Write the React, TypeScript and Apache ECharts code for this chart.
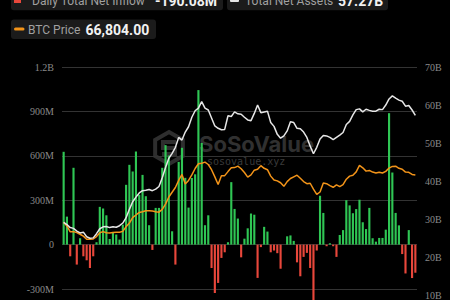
import React, { useEffect, useRef } from "react";
import * as echarts from "echarts";

// Trading days (categories)
const months: [string, number[]][] = [
  ["2024-01", [11, 12, 16, 17, 18, 19, 22, 23, 24, 25, 26, 29, 30, 31]],
  ["2024-02", [1, 2, 5, 6, 7, 8, 9, 12, 13, 14, 15, 16, 20, 21, 22, 23, 26, 27, 28, 29]],
  ["2024-03", [1, 4, 5, 6, 7, 8, 11, 12, 13, 14, 15, 18, 19, 20, 21, 22, 25, 26, 27, 28]],
  ["2024-04", [1, 2, 3, 4, 5, 8, 9, 10, 11, 12, 15, 16, 17, 18, 19, 22, 23, 24, 25, 26, 29, 30]],
  ["2024-05", [1, 2, 3, 6, 7, 8, 9, 10, 13, 14, 15, 16, 17, 20, 21, 22, 23, 24, 28, 29, 30, 31]],
  ["2024-06", [3, 4, 5, 6, 7, 10, 11, 12, 13, 14]],
];
const dates: string[] = months.flatMap(([m, ds]) => ds.map((d) => `${m}-${String(d).padStart(2, "0")}`));

// Daily total net inflow (USD millions)
const dailyNetInflow = [
  627, 189, -79, 519, -135, 43, -79, -106, -158, -79,
  16, 255, 244, 198, 38, 81, 68, 34, 135, 404,
  539, 494, 629, 336, 471, 327, 131, -36, 248, 248,
  519, 672, 602, 90, -135, 559, 654, 451, 250, 450,
  475, 1044, 687, 131, 198, -158, -327, -259, -90, -52,
  16, 422, 241, 176, -86, 40, 110, 210, 202, -225,
  -17, 120, 88, -52, -40, -58, -163, 0, 56, 62,
  25, -120, -214, -83, -56, -158, -563, -40, 330, 214,
  -11, 9, -11, -83, 65, 98, 300, 265, 212, 240,
  303, 151, 105, 248, 43, 20, 45, 45, 101, 888,
  487, 214, 130, -64, -195, 98, -226, -190.08,
];

// Total net assets (USD billions)
const totalNetAssets = [
  29.2, 28.6, 27.8, 27.6, 26.9, 26.4, 26.6, 25.4, 25.0, 25.1,
  26.2, 27.5, 28.0, 28.1, 27.8, 28.0, 27.9, 28.3, 29.0, 30.4,
  32.6, 34.6, 35.8, 36.9, 37.5, 37.6, 37.8, 37.5, 37.9, 38.6,
  40.9, 43.6, 46.0, 47.3, 48.9, 51.5, 50.8, 52.9, 54.3, 56.8,
  58.5, 59.2, 60.9, 59.2, 58.7, 56.6, 54.5, 53.9, 53.5, 53.6,
  57.2, 57.0, 58.2, 57.7, 57.6, 56.8, 56.1, 55.9, 57.8, 60.0,
  58.0, 58.2, 58.4, 55.4, 54.4, 52.3, 51.3, 51.9, 53.2, 55.6,
  55.4, 53.9, 53.8, 52.9, 51.5, 49.2, 47.2, 48.9, 51.1, 52.0,
  51.9, 51.5, 50.9, 51.5, 52.1, 52.8, 54.9, 55.7, 57.4, 58.8,
  59.0, 58.2, 58.9, 58.6, 58.4, 58.4, 58.9, 58.8, 60.0, 61.6,
  62.4, 61.8, 61.3, 61.0, 59.7, 59.9, 58.7, 57.27,
];

// BTC price (USD)
const btcPrice = [
  46800, 45300, 42800, 42900, 42500, 41800, 41000, 39700, 39700, 39800,
  40800, 42400, 42900, 42400, 42300, 42500, 42600, 42600, 43000, 45000,
  46500, 48800, 49900, 51000, 51300, 51700, 51700, 51600, 51300, 51100,
  52300, 54500, 57500, 59500, 61500, 64500, 67000, 63000, 64500, 66800,
  69500, 71500, 71700, 72200, 71200, 69000, 66000, 62800, 66500, 66500,
  68200, 69800, 69900, 70500, 69400, 67800, 65900, 66800, 68800, 69200,
  70700, 69600, 69000, 66300, 64700, 64300, 63500, 62000, 64000, 65300,
  66000, 66700, 65400, 64000, 63100, 63300, 60800, 58600, 59600, 63400,
  63100, 62300, 61600, 62600, 61900, 62700, 65000, 66300, 66700, 68100,
  70800, 69800, 68400, 68700, 68000, 67600, 67900, 67600, 68300, 69700,
  70400, 70500, 69600, 69200, 68000, 67900, 67000, 66804,
];

const leftTicks = { min: -600, max: 1200, interval: 300 };
const rightTicks = { min: 0, max: 70, interval: 10 };

const GREEN = "#2fc654";
const RED = "#e8473b";
const WHITE = "#e6e6e6";
const ORANGE = "#f39419";

export default function App() {
  const ref = useRef<HTMLDivElement>(null);
  useEffect(() => {
    if (!ref.current) return;
    const chart = echarts.init(ref.current, undefined, { renderer: "svg" });
    const lastInflow = dailyNetInflow[dailyNetInflow.length - 1];
    const lastAssets = totalNetAssets[totalNetAssets.length - 1];
    const lastPrice = btcPrice[btcPrice.length - 1];
    const inflowText = `${lastInflow.toFixed(2)}M`;
    const assetsText = `${lastAssets.toFixed(2)}B`;
    const priceText = lastPrice.toLocaleString("en-US", { minimumFractionDigits: 2, maximumFractionDigits: 2 });
    const sans = "Roboto, 'Noto Sans', sans-serif";
    const labelFont = { color: "#8a8a8a", fontFamily: "serif", fontSize: 10 };

    const cx = 169, cy = 148, r = 16;
    const hex = [0, 1, 2, 3, 4, 5].map((k) => {
      const a = (Math.PI / 180) * (-90 + 60 * k);
      return [cx + r * Math.cos(a), cy + r * Math.sin(a)];
    });

    chart.setOption({
      animation: false,
      backgroundColor: "#000",
      grid: { left: 62, right: 33, top: 67, height: 266.4 },
      xAxis: {
        type: "category",
        data: dates,
        axisLine: { show: false },
        axisTick: { show: false },
        axisLabel: { show: false },
        splitLine: { show: false },
      },
      yAxis: [
        {
          type: "value",
          position: "left",
          ...leftTicks,
          axisLine: { show: false },
          axisTick: { show: false },
          axisLabel: {
            ...labelFont,
            formatter: (v: number) => (v === 0 ? "0" : Math.abs(v) >= 1000 ? `${v / 1000}B` : `${v}M`),
          },
          splitLine: { lineStyle: { color: "#333", width: 1 } },
        },
        {
          type: "value",
          position: "right",
          ...rightTicks,
          axisLine: { show: false },
          axisTick: { show: false },
          axisLabel: { ...labelFont, formatter: "{value}B" },
          splitLine: { show: false },
        },
        { type: "value", min: 0, max: 112300, show: false },
      ],
      series: [
        {
          type: "bar",
          yAxisIndex: 0,
          barCategoryGap: "35%",
          data: dailyNetInflow.map((v) => ({ value: v, itemStyle: { color: v >= 0 ? GREEN : RED } })),
          z: 2,
        },
        {
          type: "line",
          yAxisIndex: 2,
          data: btcPrice,
          symbol: "none",
          lineStyle: { color: ORANGE, width: 1.5 },
          z: 3,
        },
        {
          type: "line",
          yAxisIndex: 1,
          data: totalNetAssets,
          symbol: "none",
          lineStyle: { color: WHITE, width: 1.5 },
          z: 4,
        },
      ],
      graphic: [
        // watermark
        { type: "polygon", z: 0, shape: { points: hex }, style: { fill: "none", stroke: "#2e2e2e", lineWidth: 4 } },
        {
          type: "polyline",
          z: 0,
          shape: { points: [[176, 142], [163, 142], [163, 148], [175, 148], [175, 154], [162, 154]] },
          style: { stroke: "#2e2e2e", lineWidth: 4, fill: "none" },
        },
        {
          type: "text",
          z: 0,
          style: { text: "SoSoValue", x: 199, y: 144, fill: "#303030", fontSize: 22, fontWeight: "bold", fontFamily: "Inter, sans-serif", verticalAlign: "middle" },
        },
        {
          type: "text",
          z: 0,
          style: { text: "sosovalue.xyz", x: 207, y: 161.5, fill: "#3a3a3a", fontSize: 10, fontFamily: "'DejaVu Sans Mono', monospace", verticalAlign: "middle" },
        },
        // legend boxes
        { type: "rect", shape: { x: 11, y: -10, width: 212, height: 20.3, r: 3 }, style: { fill: "#1b1b1b" } },
        { type: "rect", shape: { x: 14, y: -4, width: 7, height: 3 }, style: { fill: GREEN } },
        { type: "rect", shape: { x: 14, y: -1, width: 7, height: 4 }, style: { fill: RED } },
        { type: "text", style: { text: "Daily Total Net Inflow", x: 32, y: 1, fill: "#a0a0a0", fontSize: 12, fontFamily: sans, verticalAlign: "middle" } },
        { type: "text", style: { text: inflowText, x: 155, y: 1, fill: "#f2f2f2", fontSize: 14, fontWeight: "bold", fontFamily: sans, verticalAlign: "middle" } },

        { type: "rect", shape: { x: 227, y: -10, width: 161, height: 20.3, r: 3 }, style: { fill: "#1b1b1b" } },
        { type: "rect", shape: { x: 230, y: -4, width: 9, height: 6, r: 1 }, style: { fill: WHITE } },
        { type: "text", style: { text: "Total Net Assets", x: 245, y: 1, fill: "#a0a0a0", fontSize: 12, fontFamily: sans, verticalAlign: "middle" } },
        { type: "text", style: { text: assetsText, x: 338, y: 1, fill: "#f2f2f2", fontSize: 14, fontWeight: "bold", fontFamily: sans, verticalAlign: "middle" } },

        { type: "rect", shape: { x: 11, y: 19.5, width: 145, height: 19.5, r: 3 }, style: { fill: "#1b1b1b" } },
        { type: "line", shape: { x1: 15.5, y1: 29, x2: 23, y2: 29 }, style: { stroke: ORANGE, lineWidth: 3, lineCap: "round" } },
        { type: "text", style: { text: "BTC Price", x: 28, y: 29.5, fill: "#a0a0a0", fontSize: 12, fontFamily: sans, verticalAlign: "middle" } },
        { type: "text", style: { text: priceText, x: 85.5, y: 29.5, fill: "#f2f2f2", fontSize: 14, fontWeight: "bold", fontFamily: sans, verticalAlign: "middle" } },
      ],
    });
    return () => chart.dispose();
  }, []);

  return (
    <div style={{ position: "fixed", left: 0, top: 0, width: 450, height: 300, overflow: "hidden", background: "#000" }}>
      <div ref={ref} style={{ width: 450, height: 340 }} />
    </div>
  );
}
